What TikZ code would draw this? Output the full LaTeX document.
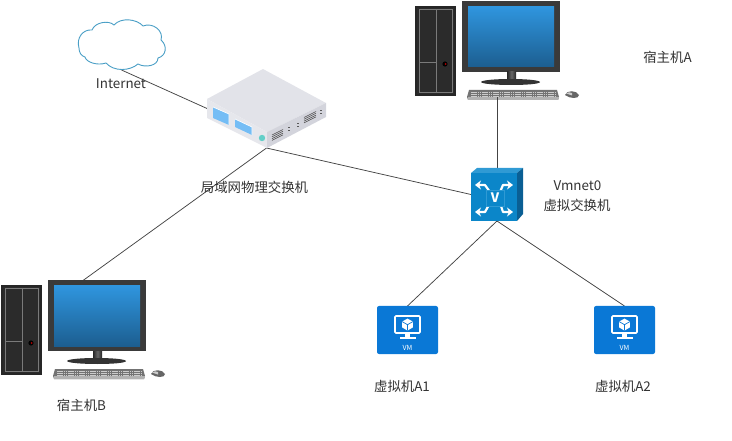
\documentclass[tikz,border=0pt]{standalone}
\usepackage{fontspec}
\setmainfont{Noto Sans CJK SC}
\usetikzlibrary{arrows.meta}
\definecolor{linkgray}{HTML}{444444}
\definecolor{txtgray}{HTML}{333333}
\definecolor{cloudblue}{HTML}{4A9FC6}
\definecolor{scrtop}{HTML}{2F95DE}
\definecolor{scrbot}{HTML}{1C5E90}
\definecolor{bezel}{HTML}{3A3A3A}
\definecolor{towerc}{HTML}{2B2B2B}
\definecolor{framec}{HTML}{7A7A7A}
\definecolor{vmblue}{HTML}{0A78D6}
\definecolor{swfront}{HTML}{0B86C9}
\definecolor{swtop}{HTML}{2F9AD4}
\definecolor{swside}{HTML}{0A5F94}
\definecolor{rtop}{HTML}{E2E3E9}
\definecolor{rleft}{HTML}{E6E7EC}
\definecolor{rright}{HTML}{D3D4DC}
\definecolor{rport}{HTML}{74BDF5}
\definecolor{rdot}{HTML}{63CFC8}
\tikzset{
  x=1pt,y=-1pt,
  link/.style={draw=linkgray,line width=0.75pt},
  lbl/.style={text=txtgray,font=\fontsize{13.4}{15}\selectfont,inner sep=0pt,align=center},
  box/.style={inner sep=0pt,outer sep=0pt,draw=none,rectangle},
  frameline/.style={draw=framec,line width=0.8pt},
  vent/.style={draw=black!70,line width=0.55pt},
  swarrow/.style={draw=white,line width=2.2pt,line join=round,-{Stealth[length=6pt,width=9pt]}},
  pics/pcset/.style={code={
    \fill[black!85] (415,6) rectangle (456,96);
    \fill[towerc] (417,8) rectangle (454,94);
    \draw[frameline] (419,9) rectangle (452,92);
    \draw[frameline] (436,9) -- (436,92);
    \draw[frameline] (419,62) -- (436,62);
    \fill[black] (445,64) circle (2.6);
    \fill[red!70!black] (445.5,64) circle (1);
    \fill[bezel] (462,1) rectangle (560,72);
    \shade[top color=scrtop,bottom color=scrbot] (468,7) rectangle (554,67);
    \shade[left color=black!85,right color=black!85,middle color=black!60] (507,72) rectangle (516,80);
    \fill[black!80] (481,82) .. controls (483,78) and (538,78) .. (540,82) .. controls (540,86) and (483,86) .. (481,82) -- cycle;
    \fill[black!55] (469,90) -- (557,90) -- (559,97) -- (558,100) -- (468,100) -- (467,97) -- cycle;
    \fill[black!30] (468,97) -- (559,97) -- (558,100) -- (468,100) -- cycle;
    \foreach \yy in {92,94,96}{\draw[black!20,line width=0.5pt,dash pattern=on 1.5pt off 0.7pt] (471,\yy) -- (555,\yy);}
    \fill[black!60] (565,95) .. controls (566,90) and (577,90) .. (579,95) .. controls (579,99) and (570,99) .. (565,95) -- cycle;
    \fill[black!20] (566,93.5) .. controls (568,92) and (570,92) .. (572,93) -- (572,95.5) -- cycle;
  }},
  pics/vmicon/.style={code={
    \fill[vmblue,rounded corners=2pt] (-30.5,0) rectangle (30.5,48);
    \draw[white,line width=1.7pt,rounded corners=1pt] (-12.5,10) rectangle (12.5,27);
    \fill[white] (-2.2,27) rectangle (2.2,31.5);
    \fill[white] (-8,31) rectangle (8,33);
    \fill[white] (0,12.6) -- (5.4,15.6) -- (5.4,21.4) -- (0,24.6) -- (-5.4,21.4) -- (-5.4,15.6) -- cycle;
    \draw[vmblue,line width=0.7pt] (-5.4,15.6) -- (0,18.7) -- (5.4,15.6) (0,18.7) -- (0,24.6);
    \node[text=white,inner sep=0pt,font=\fontsize{7}{8}\selectfont] at (0,42) {VM};
  }},
}
\begin{document}
\begin{tikzpicture}
\useasboundingbox (0,0) rectangle (732,441);
% placement boxes (invisible outlines used as connector ends)
\node[box,minimum width=119pt,minimum height=79pt] (router) at (266.5,108.5) {};
\node[box,minimum width=87pt,minimum height=51pt] (cloud) at (121.5,44.5) {};
\node[box,minimum width=52pt,minimum height=53pt] (vswitch) at (497,194.5) {};
\node[box,minimum width=61pt,minimum height=48pt] (vma) at (407.5,330) {};
\node[box,minimum width=61pt,minimum height=48pt] (vmb) at (624.5,330) {};
\coordinate (hostA) at (497,97);
\coordinate (hostB) at (83,280.5);

% connectors
\draw[link] (cloud.south) -- (router.west);
\draw[link] (router.south) -- (vswitch.west);
\draw[link] (router.south) -- (hostB);
\draw[link] (vswitch.south) -- (vma.north);
\draw[link] (vswitch.south) -- (vmb.north);

% cloud
\draw[cloudblue,line width=0.9pt,fill=white]
  (79,48) .. controls (76,38) and (83,29) .. (92,30)
  .. controls (95,22) and (109,20) .. (114,25)
  .. controls (121,17) and (137,19) .. (143,26)
  .. controls (153,22) and (164,31) .. (161,40)
  .. controls (168,46) and (166,56) .. (158,58)
  .. controls (158,66) and (145,68) .. (138,64)
  .. controls (130,71) and (114,72) .. (106,63)
  .. controls (97,66) and (86,62) .. (85,57)
  .. controls (81,56) and (79,52) .. (79,48) -- cycle;

% physical switch
\fill[rtop] (263,69) -- (326,103) -- (267,132) -- (207,99) -- cycle;
\fill[rleft] (207,99) -- (267,132) -- (267,148) -- (207,118) -- cycle;
\fill[rright] (267,132) -- (326,103) -- (326,117) -- (267,148) -- cycle;
\fill[rport] (213,107) -- (229,114) -- (229,125) -- (213,118) -- cycle;
\draw[white,line width=0.7pt] (213,107) -- (229,114) -- (229,125);
\fill[rport] (235,119) -- (252,127) -- (252,135) -- (235,127) -- cycle;
\draw[white,line width=0.7pt] (235,119) -- (252,127) -- (252,135);
\fill[rdot] (262,138) circle (3.2);
\foreach \dy in {0,1.8,3.6,5.4}{
  \draw[vent] (272,137+\dy-2) -- (283,131.5+\dy-2);
  \draw[vent] (304,119.5+\dy-2) -- (316,113.5+\dy-2);
}
\foreach \px/\py in {289/129, 297.5/125, 321/112}{
  \fill[black!65] (\px-1,\py-2) rectangle (\px+1,\py-0.7);
  \fill[black!65] (\px-1,\py+0.7) rectangle (\px+1,\py+2);
}

% hosts
\pic at (0,0) {pcset};
\pic at (-414,279) {pcset};
\draw[link] (hostA) -- (vswitch.north);

% virtual switch
\fill[swfront] (471,173) rectangle (517,221);
\fill[swtop] (471,173) -- (477,168) -- (523,168) -- (517,173) -- cycle;
\fill[swside] (517,173) -- (523,168) -- (523,214) -- (517,221) -- cycle;
\draw[swarrow] (490,192) -- (485,185) -- (475,185);
\draw[swarrow] (500,192) -- (503,185) -- (513,185);
\draw[swarrow] (490,203) -- (485,212) -- (475,212);
\draw[swarrow] (500,203) -- (503,212) -- (513,212);
\fill[swfront,draw=swtop,line width=0.8pt] (486,190) rectangle (504,206);
\node[text=white,inner sep=0pt,font=\bfseries\fontsize{13}{14}\selectfont] (vlabel) at (495,198) {V};

% virtual machines
\pic at (407.5,306) {vmicon};
\pic at (624.5,306) {vmicon};

% labels
\node[lbl] (tinternet) at (121,84) {Internet};
\node[lbl] (trouter) at (254.5,187) {局域网物理交换机};
\node[lbl] (thosta) at (667.5,57) {宿主机A};
\node[lbl] (thostb) at (81.5,405.5) {宿主机B};
\node[lbl] (tvm) at (577.5,186) {Vmnet0};
\node[lbl] (tvs) at (577,205) {虚拟交换机};
\node[lbl] (tvma) at (402,386) {虚拟机A1};
\node[lbl] (tvmb) at (623,386) {虚拟机A2};
\end{tikzpicture}
\end{document}
